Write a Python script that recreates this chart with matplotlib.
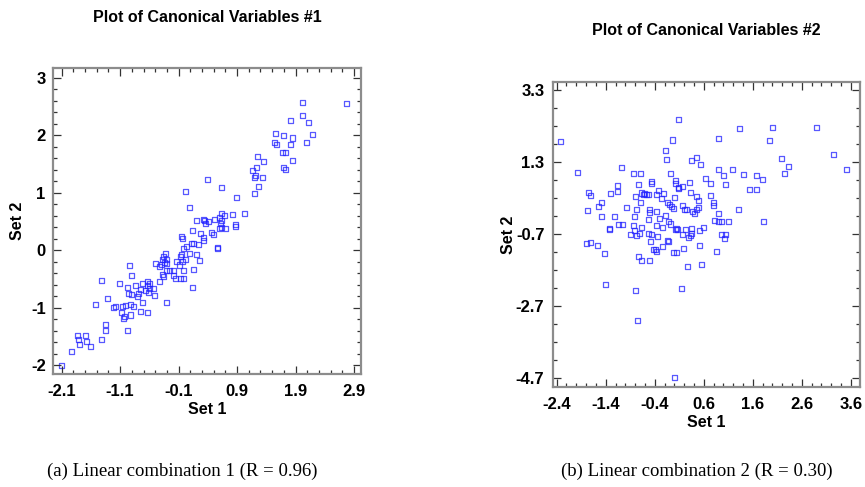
import matplotlib
matplotlib.use("Agg")
import matplotlib.pyplot as plt
from matplotlib.ticker import FixedLocator, MultipleLocator

plt.rcParams['font.family'] = ['Liberation Sans', 'DejaVu Sans']

# canonical variables #1 (R = 0.96)
set1_a = [2.02, 2.77, 2.02, 1.82, 2.13, 2.19, 1.56, 1.70, 1.54, 1.58, 1.84, 2.08,
          1.82, 1.72, 1.68, 1.85, 1.70, 1.72, 1.25, 1.35, 1.16, 1.23, 1.22, 1.20,
          1.33, 1.27, 1.20, 0.40, 0.64, 0.01, 0.89, 0.09, 1.03, 0.83, 0.64, 0.69,
          0.60, 0.52, 0.64, 0.33, 0.35, 0.41, 0.21, 0.36, 0.62, 0.88, 0.88, 0.71,
          0.60, 0.63, 0.13, 0.46, 0.49, 0.28, 0.32, 0.32, -0.05, -0.04, 0.12, 0.15,
          0.24, 0.04, -0.01, 0.56, 0.56, 0.09, 0.20, -0.05, -0.06, 0.25, 0.01, -0.03,
          -0.13, -0.08, -0.33, -0.36, -0.31, -0.38, -0.34, -0.30, -0.39, -0.50, -0.43, -0.30,
          -0.26, -0.19, -0.37, -0.36, -0.18, -0.15, -0.06, -0.01, -0.01, 0.16, 0.13, -0.43,
          -0.30, -0.63, -0.60, -0.63, -0.59, -0.53, -0.66, -0.61, -0.51, -0.71, -0.83, -0.76,
          -0.78, -0.80, -0.71, -0.75, -0.63, -0.94, -0.90, -0.97, -0.95, -0.90, -1.11, -0.88,
          -0.93, -1.01, -1.06, -1.18, -1.21, -1.07, -1.05, -1.02, -0.93, -0.98, -1.42, -1.32,
          -1.52, -1.35, -1.35, -1.42, -1.83, -1.82, -1.79, -1.70, -1.67, -1.60, -1.93, -2.10]
set2_a = [2.56, 2.55, 2.34, 2.26, 2.22, 2.01, 2.03, 1.99, 1.88, 1.84, 1.95, 1.87,
          1.83, 1.70, 1.69, 1.56, 1.43, 1.41, 1.63, 1.54, 1.39, 1.44, 1.30, 1.27,
          1.26, 1.11, 0.98, 1.22, 1.09, 1.02, 0.92, 0.74, 0.63, 0.62, 0.63, 0.60,
          0.57, 0.54, 0.52, 0.54, 0.51, 0.49, 0.51, 0.46, 0.47, 0.44, 0.41, 0.37,
          0.37, 0.40, 0.34, 0.30, 0.27, 0.29, 0.21, 0.17, 0.23, 0.20, 0.12, 0.12,
          0.09, 0.06, 0.03, 0.05, 0.02, -0.06, -0.07, -0.08, -0.12, -0.18, -0.17, -0.20,
          -0.20, -0.26, -0.06, -0.12, -0.17, -0.17, -0.22, -0.23, -0.25, -0.24, -0.28, -0.36,
          -0.36, -0.36, -0.43, -0.46, -0.44, -0.50, -0.50, -0.49, -0.35, -0.34, -0.65, -0.54,
          -0.92, -0.55, -0.59, -0.62, -0.67, -0.67, -0.70, -0.74, -0.79, -0.59, -0.62, -0.69,
          -0.75, -0.80, -0.91, -1.07, -1.08, -0.27, -0.45, -0.66, -0.75, -0.77, -0.58, -0.98,
          -0.95, -0.97, -0.99, -0.99, -1.00, -1.08, -1.19, -1.16, -1.13, -1.40, -0.53, -0.85,
          -0.95, -1.30, -1.40, -1.55, -1.49, -1.56, -1.65, -1.49, -1.59, -1.68, -1.77, -2.01]

# canonical variables #2 (R = 0.30)
set1_b = [0.08, -2.33, 1.32, 2.00, 2.90, 0.91, -0.04, 1.93, -0.19, 3.25, 2.18, -0.16,
          0.46, 0.34, 0.53, 2.32, 3.50, -1.98, -1.07, 0.89, 1.18, 2.24, -0.83, -0.70,
          -0.08, 1.00, 1.41, 1.68, 1.80, 0.63, 0.02, 0.02, 0.31, 0.74, 1.05, -0.47,
          -0.47, -0.74, -1.15, -1.15, -1.30, 0.17, 0.09, 0.09, 1.53, 1.67, 0.33, -1.76,
          -1.70, -0.66, -0.63, -0.57, -0.60, -0.53, -0.33, -0.37, -0.22, -0.27, -0.80, 0.74,
          0.00, -0.15, 0.45, 0.50, -1.48, -1.54, -1.77, -0.98, -0.78, -0.70, -0.10, -0.05,
          -0.02, 0.16, 0.21, 0.24, 0.37, 0.45, 0.50, 0.79, 0.79, 1.31, -0.51, -0.37,
          -0.51, 0.91, -1.22, -1.48, -0.81, -0.18, -0.52, -0.30, 0.81, 0.89, 0.97, 1.10,
          1.81, 0.41, -0.11, -0.08, -1.32, -1.33, -1.14, -1.06, -0.68, -0.83, -0.36, -0.24,
          -0.82, 0.05, 0.03, 0.07, 0.23, 0.35, 0.52, 0.59, -0.71, -0.53, -0.46, -0.34,
          0.16, 0.34, 0.32, 0.96, 1.05, 1.03, 0.28, -0.89, -0.78, -0.49, -0.13, -0.12,
          -1.80, -1.70, -1.56, -1.43, -0.25, -0.42, -0.36, -0.38, 0.05, -0.01, 0.18, 0.52,
          0.86, -0.73, -0.68, -0.51, 0.56, 0.26, -1.41, -0.79, 0.15, -0.76, 0.00]
set2_b = [2.49, 1.86, 2.23, 2.27, 2.27, 1.96, 1.91, 1.89, 1.63, 1.51, 1.39, 1.36,
          1.43, 1.33, 1.24, 1.18, 1.08, 1.02, 1.16, 1.10, 1.10, 0.99, 0.99, 0.99,
          0.97, 0.92, 0.95, 0.92, 0.82, 0.84, 0.80, 0.71, 0.72, 0.70, 0.67, 0.75,
          0.69, 0.67, 0.65, 0.49, 0.42, 0.62, 0.57, 0.60, 0.55, 0.55, 0.45, 0.45,
          0.36, 0.44, 0.41, 0.40, 0.43, 0.39, 0.52, 0.41, 0.42, 0.28, 0.33, 0.38,
          0.32, 0.19, 0.33, 0.24, 0.19, 0.06, -0.04, 0.03, -0.01, 0.19, 0.12, 0.06,
          0.01, 0.08, -0.01, -0.01, -0.07, -0.01, 0.04, 0.19, 0.10, -0.02, -0.01, -0.08,
          -0.10, -0.13, -0.20, -0.22, -0.22, -0.18, -0.29, -0.28, -0.32, -0.36, -0.35, -0.35,
          -0.35, -0.14, -0.35, -0.42, -0.54, -0.58, -0.44, -0.44, -0.53, -0.46, -0.47, -0.53,
          -0.59, -0.55, -0.57, -0.57, -0.57, -0.54, -0.59, -0.51, -0.68, -0.67, -0.71, -0.76,
          -0.70, -0.68, -0.75, -0.72, -0.71, -0.82, -0.79, -0.72, -0.74, -0.90, -0.87, -0.91,
          -0.95, -0.92, -1.02, -1.23, -1.05, -1.13, -1.17, -1.14, -1.20, -1.21, -1.10, -1.03,
          -1.18, -1.33, -1.44, -1.42, -1.53, -1.61, -2.10, -2.27, -2.21, -3.10, -4.67]

xticks_a = [-2.1, -1.1, -0.1, 0.9, 1.9, 2.9]
yticks_a = [-2, -1, 0, 1, 2, 3]
xticks_b = [-2.4, -1.4, -0.4, 0.6, 1.6, 2.6, 3.6]
yticks_b = [-4.7, -2.7, -0.7, 1.3, 3.3]

fig = plt.figure(figsize=(8.65, 4.87), dpi=100)
ax1 = fig.add_axes([0.0609, 0.232, 0.357, 0.628])
ax2 = fig.add_axes([0.639, 0.2047, 0.3555, 0.627])


def style(ax, xt, yt, xminor, yminor, ypad, ylpad):
    ax.xaxis.set_major_locator(FixedLocator(xt))
    ax.yaxis.set_major_locator(FixedLocator(yt))
    ax.set_xticklabels([('%g' % v) for v in xt])
    ax.set_yticklabels([('%g' % v) for v in yt])
    ax.xaxis.set_minor_locator(xminor)
    ax.yaxis.set_minor_locator(yminor)
    ax.tick_params(which='both', direction='in', top=True, right=True,
                   color='#333333', width=0.9)
    ax.tick_params(which='major', length=6, labelsize=12)
    ax.tick_params(axis='x', which='major', pad=7)
    ax.tick_params(axis='y', which='major', pad=ypad)
    ax.tick_params(which='minor', length=3)
    for lab in ax.get_xticklabels() + ax.get_yticklabels():
        lab.set_fontweight('bold')
    for sp in ax.spines.values():
        sp.set_color('#8c8c8c')
        sp.set_linewidth(1.6)
    ax.set_xlabel('Set 1', fontsize=11.5, fontweight='bold', labelpad=2)
    ax.set_ylabel('Set 2', fontsize=11.5, fontweight='bold', labelpad=ylpad)


mk = dict(marker='s', s=13, facecolors='none', edgecolors='#2020ff',
          linewidths=0.9, alpha=0.75)

ax1.scatter(set1_a, set2_a, **mk)
ax1.set_xlim(-2.254, 3.028)
ax1.set_ylim(-2.157, 3.165)
style(ax1, xticks_a, yticks_a, MultipleLocator(0.2, offset=0.1), MultipleLocator(0.2), 5, 4)

ax2.scatter(set1_b, set2_b, **mk)
ax2.set_xlim(-2.48, 3.79)
ax2.set_ylim(-4.95, 3.52)
style(ax2, xticks_b, yticks_b, MultipleLocator(0.2), MultipleLocator(0.5, offset=0.3), 6, 0)

fig.text(0.2395, 0.965, 'Plot of Canonical Variables #1', ha='center', va='center',
         fontsize=11.5, fontweight='bold')
fig.text(0.8165, 0.938, 'Plot of Canonical Variables #2', ha='center', va='center',
         fontsize=11.5, fontweight='bold')

fig.text(0.211, 0.033, '(a) Linear combination 1 (R = 0.96)', ha='center', va='center',
         fontsize=13.5, family=['Liberation Serif', 'DejaVu Serif'])
fig.text(0.806, 0.033, '(b) Linear combination 2 (R = 0.30)', ha='center', va='center',
         fontsize=13.5, family=['Liberation Serif', 'DejaVu Serif'])

fig.savefig('out.png', dpi=100)
